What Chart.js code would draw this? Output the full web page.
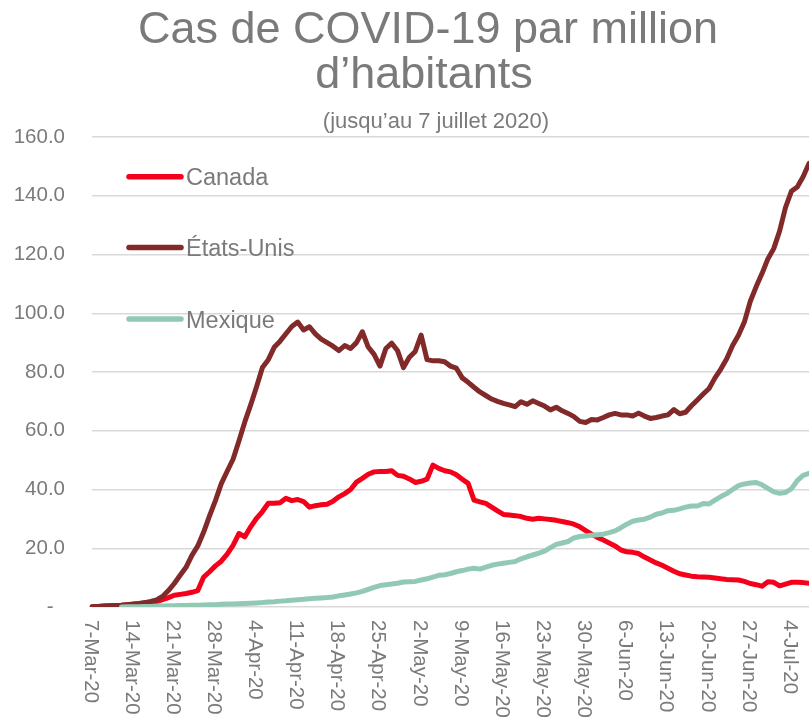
<!DOCTYPE html>
<html>
<head>
<meta charset="utf-8">
<script src="https://cdn.jsdelivr.net/npm/chart.js@4/dist/chart.umd.min.js"></script>
<style>
  html, body { margin: 0; padding: 0; background: #ffffff; }
  #wrap { width: 809px; height: 721px; }
</style>
</head>
<body>
<div id="wrap"><canvas id="c" width="809" height="721"></canvas></div>
<script>
// ---- Data ----
const startDate = '2020-03-07';
const dayCount = 123; // 7 Mar 2020 .. 7 Jul 2020

const tickLabels = ['7-Mar-20','14-Mar-20','21-Mar-20','28-Mar-20','4-Apr-20','11-Apr-20',
  '18-Apr-20','25-Apr-20','2-May-20','9-May-20','16-May-20','23-May-20','30-May-20',
  '6-Jun-20','13-Jun-20','20-Jun-20','27-Jun-20','4-Jul-20'];

const seriesNames = ['Canada', 'États-Unis', 'Mexique'];

const canada = [
  0.1,0.2,0.3,0.4,0.5,0.6,0.8,0.9,1.1,1.3,
  1.5,1.8,2.5,3.2,4.0,4.3,4.6,5.0,5.6,10.2,
  12.0,14.0,15.6,18.0,21.0,25.0,23.9,27.3,30.2,32.5,
  35.3,35.3,35.5,37.0,36.2,36.6,35.9,34.0,34.5,34.8,
  35.0,36.0,37.5,38.6,40.0,42.5,43.8,45.2,46.0,46.1,
  46.1,46.4,44.8,44.5,43.6,42.4,42.8,43.5,48.3,47.2,
  46.4,46.0,45.0,43.5,42.1,36.4,35.8,35.3,34.0,32.7,
  31.5,31.3,31.1,30.8,30.2,29.9,30.2,30.0,29.8,29.5,
  29.1,28.7,28.2,27.3,26.0,24.8,23.7,22.8,21.8,20.8,
  19.4,18.8,18.6,18.2,17.0,16.0,15.0,14.2,13.2,12.2,
  11.3,10.9,10.5,10.3,10.2,10.1,9.9,9.6,9.4,9.3,
  9.2,8.7,8.0,7.6,7.1,8.6,8.4,7.2,7.8,8.4,
  8.4,8.3,8.1
];

const etatsUnis = [
  0.1,0.2,0.3,0.4,0.5,0.6,0.8,1.0,1.2,1.5,
  1.9,2.4,3.6,5.6,8.0,10.8,13.5,17.6,20.8,25.5,
  31.0,36.2,42.0,46.2,50.3,56.5,63.0,68.8,75.0,81.5,
  84.2,88.4,90.5,93.0,95.5,97.0,94.3,95.4,93.0,91.2,
  90.0,88.8,87.3,89.0,88.0,90.0,93.7,88.5,86.0,82.0,
  88.0,89.8,87.2,81.5,85.0,87.0,92.6,84.2,83.8,83.8,
  83.5,82.0,81.3,78.0,76.5,74.8,73.2,72.0,70.8,70.0,
  69.3,68.8,68.2,69.9,69.0,70.2,69.3,68.4,67.1,68.0,
  66.8,65.9,64.8,63.2,62.8,63.8,63.7,64.5,65.4,65.9,
  65.4,65.4,65.0,66.0,65.0,64.2,64.5,65.0,65.4,67.2,
  65.8,66.3,68.5,70.5,72.5,74.4,78.0,81.0,84.5,89.0,
  92.5,97.0,104.0,109.0,113.5,118.5,122.0,128.0,136.0,141.5,
  143.0,146.5,151.0
];

const mexique = [
  null,null,null,null,null,0.0,0.05,0.1,0.1,0.2,
  0.2,0.3,0.3,0.4,0.4,0.5,0.5,0.6,0.6,0.7,
  0.8,0.8,0.9,1.0,1.0,1.1,1.2,1.3,1.4,1.5,
  1.7,1.8,2.0,2.1,2.3,2.5,2.6,2.8,3.0,3.1,
  3.2,3.4,3.8,4.1,4.4,4.8,5.3,6.0,6.7,7.3,
  7.6,7.8,8.1,8.5,8.6,8.7,9.2,9.6,10.2,10.8,
  11.0,11.4,12.0,12.4,12.9,13.2,12.9,13.6,14.2,14.6,
  14.9,15.2,15.5,16.4,17.1,17.7,18.3,19.0,20.2,21.3,
  21.8,22.3,23.5,24.0,24.2,24.4,24.6,24.8,25.3,25.9,
  27.0,28.2,29.2,29.6,29.9,30.6,31.6,32.0,32.8,32.9,
  33.4,34.0,34.4,34.4,35.2,35.1,36.4,37.6,38.6,40.0,
  41.3,41.9,42.2,42.4,41.6,40.4,39.2,38.7,39.0,40.2,
  43.0,44.8,45.5
];

const yTicks = [0, 20, 40, 60, 80, 100, 120, 140, 160];

// ---- Category labels (one per day) ----
const monthNames = ['Jan','Feb','Mar','Apr','May','Jun','Jul','Aug','Sep','Oct','Nov','Dec'];
const categories = [];
(function () {
  const d0 = new Date(startDate + 'T12:00:00Z');
  for (let i = 0; i < dayCount; i++) {
    const d = new Date(d0.getTime() + i * 86400000);
    categories.push(d.getUTCDate() + '-' + monthNames[d.getUTCMonth()] + '-' + String(d.getUTCFullYear()).slice(2));
  }
})();

const FONT = "'Liberation Sans', Arial, Helvetica, sans-serif";
const TEXT = '#7a7a7a';
const colors = ['#f5001a', '#82292a', '#91c9b5'];

// ---- Plugins: title, rotated x labels, in-plot legend ----
const decorPlugin = {
  id: 'decor',
  afterDraw(chart) {
    const ctx = chart.ctx;
    ctx.save();
    ctx.fillStyle = TEXT;
    ctx.textAlign = 'center';
    ctx.textBaseline = 'alphabetic';
    ctx.font = '45px ' + FONT;
    ctx.fillText('Cas de COVID-19 par million', 428, 43);
    ctx.fillText('d\u2019habitants', 424, 88);
    ctx.font = '22px ' + FONT;
    ctx.fillText('(jusqu\u2019au 7 juillet 2020)', 436, 128);

    // x tick labels, rotated to read top-to-bottom
    const xs = chart.scales.x;
    ctx.font = '20.5px ' + FONT;
    ctx.textAlign = 'left';
    tickLabels.forEach(lbl => {
      const idx = categories.indexOf(lbl);
      if (idx < 0) return;
      const px = xs.getPixelForValue(idx);
      ctx.save();
      ctx.translate(px, 620);
      ctx.rotate(Math.PI / 2);
      ctx.fillText(lbl, 0, 7.5);
      ctx.restore();
    });

    // legend inside the plot
    const legendY = [176.7, 247.5, 319];
    ctx.font = '23.5px ' + FONT;
    chart.data.datasets.forEach((ds, i) => {
      const y = legendY[i];
      ctx.strokeStyle = ds.borderColor;
      ctx.lineWidth = 5.5;
      ctx.lineCap = 'round';
      ctx.beginPath();
      ctx.moveTo(129, y);
      ctx.lineTo(181, y);
      ctx.stroke();
      ctx.fillStyle = TEXT;
      ctx.fillText(ds.label, 186, y + 8.5);
    });
    ctx.restore();
  }
};

new Chart(document.getElementById('c'), {
  type: 'line',
  data: {
    labels: categories,
    datasets: [
      { label: seriesNames[0], data: canada, borderColor: colors[0], backgroundColor: colors[0], order: 3 },
      { label: seriesNames[1], data: etatsUnis, borderColor: colors[1], backgroundColor: colors[1], order: 2 },
      { label: seriesNames[2], data: mexique, borderColor: colors[2], backgroundColor: colors[2], order: 1 }
    ]
  },
  options: {
    responsive: false,
    animation: false,
    devicePixelRatio: 1,
    layout: { padding: { left: 0, right: 0, top: 137, bottom: 114 } },
    elements: {
      point: { radius: 0, hoverRadius: 0 },
      line: { borderWidth: 5, tension: 0, borderJoinStyle: 'round', borderCapStyle: 'round', fill: false }
    },
    spanGaps: false,
    plugins: {
      legend: { display: false },
      title: { display: false },
      tooltip: { enabled: false }
    },
    scales: {
      x: {
        type: 'category',
        display: false,
        offset: false
      },
      y: {
        min: 0,
        max: 160,
        afterBuildTicks(scale) { scale.ticks = yTicks.map(v => ({ value: v })); },
        afterFit(scale) { scale.width = 92; },
        border: { display: false },
        grid: { color: '#d9d9d9', lineWidth: 1.5, drawTicks: false },
        ticks: {
          padding: 27,
          color: TEXT,
          font: { family: FONT, size: 20.5 },
          callback: (v) => v === 0 ? '-  ' : Number(v).toFixed(1)
        }
      }
    }
  },
  plugins: [decorPlugin]
});
</script>
</body>
</html>
